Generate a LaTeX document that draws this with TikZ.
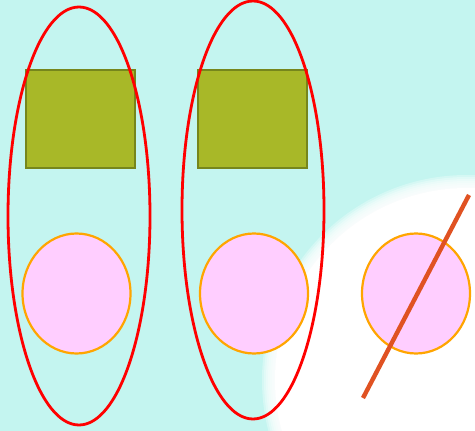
\documentclass[tikz,border=0pt]{standalone}
\definecolor{bgcyan}{RGB}{196,245,240}
\definecolor{pinkfill}{RGB}{255,206,255}
\definecolor{ringorange}{RGB}{255,165,0}
\definecolor{olivefill}{RGB}{168,184,40}
\definecolor{olivedraw}{RGB}{118,134,28}
\definecolor{slash}{RGB}{224,82,34}
\tikzset{
  outerring/.style={draw=red, line width=2.8pt},
  boxshape/.style={draw=olivedraw, fill=olivefill, line width=2.9pt},
  disc/.style={draw=ringorange, fill=pinkfill, line width=2.2pt},
  slashline/.style={draw=slash, line width=4.4pt},
}
\begin{document}
\begin{tikzpicture}[x=1pt,y=-1pt]
\useasboundingbox (0,0) rectangle (475,431);
\fill[bgcyan] (0,0) rectangle (475,431);
\begin{scope}
\clip (0,0) rectangle (475,431);
\foreach \r in {205,203,201,199,197,195,193}{
  \fill[white, opacity=0.3] (467,380) circle[radius=\r];
}
\fill[white] (467,380) circle[radius=192];
\end{scope}
% rectangles
\draw[boxshape] (26,70) rectangle (135,168);
\draw[boxshape] (198,70) rectangle (307,168);
% discs
\draw[disc] (76.5,293.5) ellipse[x radius=54,y radius=60];
\draw[disc] (254,293.5) ellipse[x radius=54,y radius=60];
\draw[disc] (416,293.5) ellipse[x radius=54,y radius=60];
% outer red ellipses
\draw[outerring] (79,216) ellipse[x radius=71,y radius=209];
\draw[outerring] (253,210) ellipse[x radius=71,y radius=209];
% slash
\draw[slashline] (363,398) -- (469,195);
\end{tikzpicture}
\end{document}
